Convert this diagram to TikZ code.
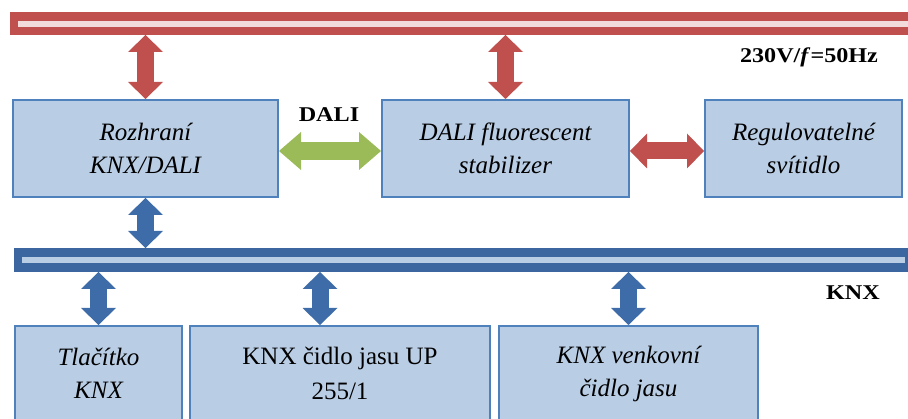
\documentclass[tikz,border=0pt]{standalone}
\usepackage{fontspec}
\setmainfont{Liberation Serif}
\newfontfamily\lblfont{Liberation Serif}[FakeStretch=1.15]
\usetikzlibrary{arrows.meta}
\definecolor{boxfill}{RGB}{185,205,229}
\definecolor{boxdraw}{RGB}{79,129,189}
\definecolor{redbus}{RGB}{192,80,77}
\definecolor{redlight}{RGB}{242,220,219}
\definecolor{bluebus}{RGB}{60,102,160}
\definecolor{bluearrow}{RGB}{62,108,168}
\definecolor{greenarrow}{RGB}{155,187,89}
\begin{document}
\begin{tikzpicture}[x=1pt,y=-1pt,
  box/.style={draw=boxdraw, line width=2pt, fill=boxfill, align=center,
    font=\fontsize{25}{33}\selectfont\itshape, inner sep=0pt},
  boxup/.style={box, font=\fontsize{25}{35}\selectfont\upshape},
  lbl/.style={font=\lblfont\fontsize{21}{24}\selectfont\bfseries, inner sep=0pt},
  redtip/.style={line width=17pt, {Triangle[width=35pt,length=17pt,line width=0pt]}-{Triangle[width=35pt,length=17pt,line width=0pt]}},
  greentip/.style={line width=18pt, {Triangle[width=38pt,length=22pt,line width=0pt]}-{Triangle[width=38pt,length=22pt,line width=0pt]}}
]
\path[use as bounding box, clip] (0,0) rectangle (908,419);
% buses
\path[fill=redbus] (10,12) rectangle (912,35);
\path[fill=redlight] (18,21) rectangle (912,27);
\coordinate (power) at (460,35);
\path[fill=bluebus] (14,248) rectangle (910,272);
\path[fill=boxfill] (22,257) rectangle (905,263);
\coordinate (knxtop) at (460,248);
\coordinate (knxbot) at (460,272);
% boxes
\node[box, minimum width=265pt, minimum height=97pt] (b1) at (145.5,148.5) {Rozhraní\\KNX/DALI};
\node[box, minimum width=247pt, minimum height=97pt] (b2) at (505.5,148.5) {DALI fluorescent\\stabilizer};
\node[box, minimum width=197pt, minimum height=97pt] (b3) at (803.5,148.5) {Regulovatelné\\svítidlo};
\node[box, minimum width=167pt, minimum height=95pt] (b4) at (98.5,373.5) {Tlačítko\\KNX};
\node[boxup, minimum width=300pt, minimum height=95pt] (b5) at (340,373.5) {KNX čidlo jasu UP\\255/1};
\node[box, minimum width=259pt, minimum height=95pt] (b6) at (628.5,373.5) {KNX venkovní\\čidlo jasu};
% labels
\node[lbl] (volt) at (809,57) {230V/\textit{f}=50Hz};
\node[lbl] (dali) at (329,115) {DALI};
\node[lbl] (knx) at (853,293) {KNX};
% arrows
\draw[redtip, redbus] (power -| b1.north) -- (b1.north);
\draw[redtip, redbus] (power -| b2.north) -- (b2.north);
\draw[greentip, greenarrow] (b1.east |- 0,151) -- (b2.west |- 0,151);
\draw[redtip, redbus] (b2.east |- 0,151) -- (b3.west |- 0,151);
\draw[redtip, bluearrow] (b1.south) -- (knxtop -| b1.south);
\draw[redtip, bluearrow] (knxbot -| b4.north) -- (b4.north);
\draw[redtip, bluearrow] (knxbot -| 320,0) -- (320,0 |- b5.north);
\draw[redtip, bluearrow] (knxbot -| b6.north) -- (b6.north);
\end{tikzpicture}
\end{document}
